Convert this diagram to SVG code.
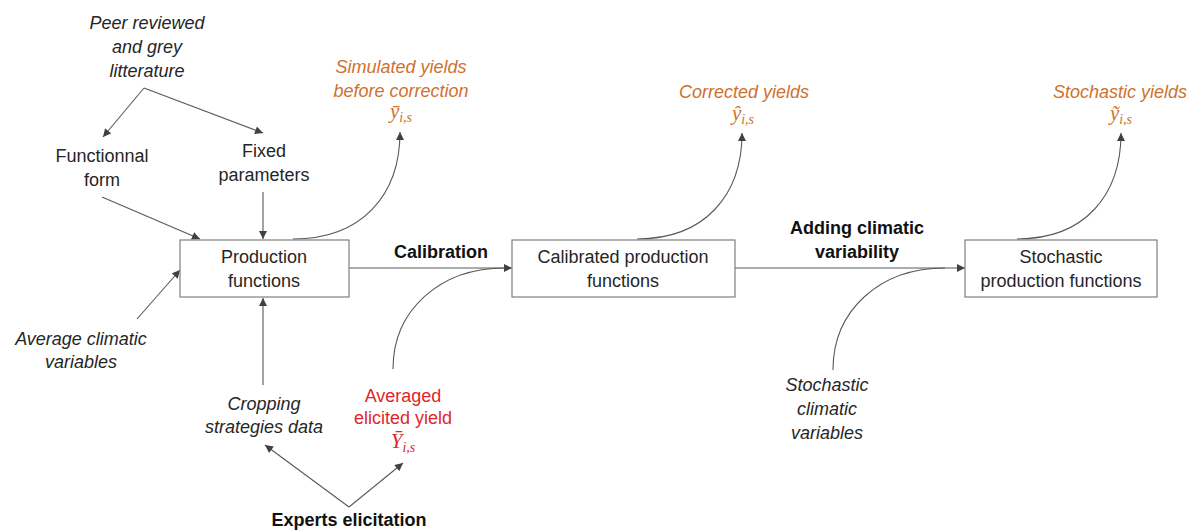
<svg xmlns="http://www.w3.org/2000/svg" width="1187" height="531" viewBox="0 0 1187 531">
<defs>
<marker id="ah" viewBox="0 0 10 10" refX="10" refY="5" markerWidth="9" markerHeight="8" markerUnits="userSpaceOnUse" orient="auto">
<path d="M0,0 L10,5 L0,10 Z" fill="#404040"/>
</marker>
</defs>
<style>
.box{fill:#ffffff;stroke:#7f7f7f;stroke-width:1.2}
.t{font-family:"Liberation Sans",Arial,sans-serif;font-size:18px;fill:#262626;text-anchor:middle}
.i{font-style:italic}
.b{font-weight:bold;fill:#111111}
.o{fill:#d0702e}
.r{fill:#e0262b}
.m{font-family:"Liberation Serif","Times New Roman",serif;font-style:italic;font-size:21px;text-anchor:middle}
.s{font-size:14px}
.c{fill:none;stroke:#595959;stroke-width:1.1}
.ca{fill:none;stroke:#595959;stroke-width:1.1;marker-end:url(#ah)}
</style>
<rect width="1187" height="531" fill="#ffffff"/>

<g id="connectors">
<path class="ca" d="M144,88 L103,137"/>
<path class="ca" d="M144,88 L263,133"/>
<path class="ca" d="M102,197 L200,239"/>
<path class="ca" d="M263,192 L263,239"/>
<path class="ca" d="M137,319 L180,270"/>
<path class="ca" d="M263,385 L263,298"/>
<path class="ca" d="M349,507 L265,445"/>
<path class="ca" d="M349,507 L403,463"/>
<path class="ca" d="M293,239 C362,239 400,195 400,132"/>
<path class="ca" d="M637,239 C705,239 742,195 742,133"/>
<path class="ca" d="M1017,239 C1085,239 1121,195 1121,133"/>
<path class="ca" d="M349,268 L512,268"/>
<path class="c" d="M393,369 C393,310 440,268 505,268"/>
<path class="ca" d="M735,268 L965,268"/>
<path class="c" d="M833,370 C833,310 880,268 945,268"/>
</g>

<g id="node-production">
<rect class="box" x="180" y="240" width="169" height="57"/>
<text class="t" x="264" y="263">Production</text>
<text class="t" x="264" y="287">functions</text>
</g>
<g id="node-calibrated">
<rect class="box" x="512" y="240" width="223" height="57"/>
<text class="t" x="623" y="263">Calibrated production</text>
<text class="t" x="623" y="287">functions</text>
</g>
<g id="node-stochastic">
<rect class="box" x="965" y="240" width="192" height="57"/>
<text class="t" x="1061" y="263">Stochastic</text>
<text class="t" x="1061" y="287">production functions</text>
</g>

<g id="node-literature">
<text class="t i" x="147" y="29">Peer reviewed</text>
<text class="t i" x="147" y="53">and grey</text>
<text class="t i" x="147" y="77">litterature</text>
</g>
<g id="node-functional">
<text class="t" x="102" y="162">Functionnal</text>
<text class="t" x="102" y="186">form</text>
</g>
<g id="node-fixed">
<text class="t" x="264" y="157">Fixed</text>
<text class="t" x="264" y="181">parameters</text>
</g>
<g id="node-simulated">
<text class="t i o" x="401" y="73">Simulated yields</text>
<text class="t i o" x="401" y="97">before correction</text>
<text class="m o" x="401" y="118">ȳ<tspan class="s" dy="4">i,s</tspan></text>
</g>
<g id="node-corrected">
<text class="t i o" x="744" y="98">Corrected yields</text>
<text class="m o" x="743" y="120">ŷ<tspan class="s" dy="4">i,s</tspan></text>
</g>
<g id="node-stochyields">
<text class="t i o" x="1120" y="98">Stochastic yields</text>
<text class="m o" x="1121" y="120">ỹ<tspan class="s" dy="4">i,s</tspan></text>
</g>
<g id="label-calibration">
<text class="t b" x="441" y="258">Calibration</text>
</g>
<g id="label-adding">
<text class="t b" x="857" y="234">Adding climatic</text>
<text class="t b" x="857" y="258">variability</text>
</g>
<g id="node-average">
<text class="t i" x="81" y="345">Average climatic</text>
<text class="t i" x="81" y="368">variables</text>
</g>
<g id="node-cropping">
<text class="t i" x="264" y="410">Cropping</text>
<text class="t i" x="264" y="433">strategies data</text>
</g>
<g id="node-averaged">
<text class="t r" x="403" y="402">Averaged</text>
<text class="t r" x="403" y="424">elicited yield</text>
<text class="m r" x="403" y="448">Ȳ<tspan class="s" dy="4">i,s</tspan></text>
</g>
<g id="node-stochclim">
<text class="t i" x="827" y="391">Stochastic</text>
<text class="t i" x="827" y="415">climatic</text>
<text class="t i" x="827" y="439">variables</text>
</g>
<g id="node-experts">
<text class="t b" x="349" y="526">Experts elicitation</text>
</g>
</svg>
